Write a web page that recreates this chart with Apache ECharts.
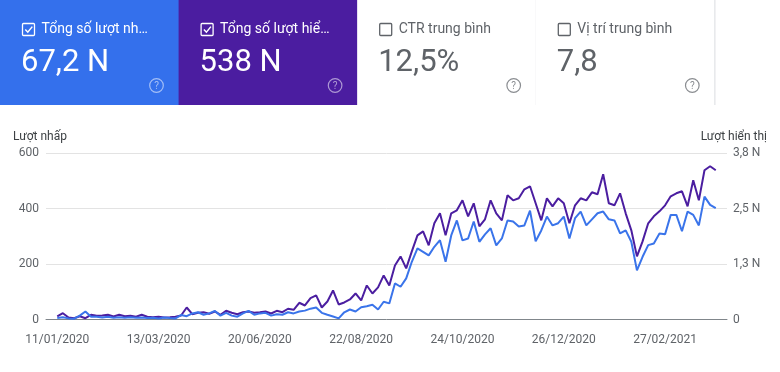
<!DOCTYPE html>
<html>
<head>
<meta charset="utf-8">
<script src="https://cdn.jsdelivr.net/npm/echarts@6/dist/echarts.min.js"></script>
<style>
html,body{margin:0;padding:0;background:#fff;}
#chart{width:780px;height:372px;}
</style>
</head>
<body>
<div id="chart"></div>
<script>
// ---- Data (sampled twice a week, from 11/01/2020) ----
const xTickLabels = ['11/01/2020','13/03/2020','20/06/2020','22/08/2020','24/10/2020','26/12/2020','27/02/2021'];
const leftTickLabels = ['0','200','400','600'];
const rightTickLabels = ['0','1,3 N','2,5 N','3,8 N'];
const clicks = [5,8,4,3,14,29,10,10,7,10,6,8,6,8,6,7,5,6,4,7,5,4,
  16,12,22,26,17,22,31,14,24,14,10,22,31,17,22,24,14,19,17,26,22,29,32,39,43,24,17,11,4,26,36,29,44,48,53,
  36,64,58,130,118,148,208,256,244,231,262,286,208,303,357,285,292,353,280,307,
  329,267,292,357,353,335,339,392,282,321,371,339,347,371,292,365,389,339,361,383,
  389,361,357,310,321,280,177,226,268,274,310,307,377,377,318,389,377,339,443,413,401];
const impressions = [69,144,46,30,75,30,107,85,91,107,69,107,75,85,62,107,62,53,62,46,53,62,
  91,274,121,153,167,130,183,107,199,153,121,167,183,153,167,183,137,199,167,245,222,382,320,487,549,274,411,663,343,389,457,594,434,777,594,
  732,1006,777,1234,1440,1166,1554,1920,2012,1692,2195,2423,1920,2423,2492,2720,2355,2652,2126,2286,
  2720,2423,2263,2835,2720,2766,2972,3040,2652,2263,2766,2583,2766,2652,2195,2606,2766,2720,2903,2858,
  3315,2652,2606,2880,2423,2035,1440,1783,2195,2355,2469,2606,2812,2880,2926,2583,3178,2720,3406,3498,3406];
const cardLabels = ['Tổng số lượt nh…','Tổng số lượt hiể…','CTR trung bình','Vị trí trung bình'];
const cardValues = ['67,2 N','538 N','12,5%','7,8'];
const cardChecked = [true,true,false,false];

// ---- Build ----
const PAD = 2;           // empty slots before/after data on the axis
const STEP = 18;         // samples between date labels
const n = clicks.length;
const categories = [];
for (let i = 0; i < n + 2 * PAD; i++) categories.push(String(i - PAD));
const padArr = a => [...Array(PAD).fill(null), ...a, ...Array(PAD).fill(null)];

const BLUE = '#3a74ea', PURPLE = '#4b1ea0';
const cardFill = ['#3470ec', '#4b1da0', '#ffffff', '#ffffff'];
const cardW = 178.6, cardH = 105;
const graphic = [];
cardLabels.forEach((lab, k) => {
  const x0 = k * cardW;
  const colored = k < 2;
  const fg = colored ? '#ffffff' : '#5f6368';
  graphic.push({type:'rect', shape:{x:x0, y:0, width:cardW + (colored?0.5:0), height:cardH}, style:{fill:cardFill[k]}, silent:true});
  if (!colored) graphic.push({type:'line', shape:{x1:x0+cardW+0.5, y1:0, x2:x0+cardW+0.5, y2:cardH}, style:{stroke:'#dadce0', lineWidth:1}});
  graphic.push({type:'rect', shape:{x:x0+22.5, y:23.5, width:12, height:12, r:1}, style:{fill:'none', stroke:fg, lineWidth:1.3}});
  if (cardChecked[k]) graphic.push({type:'polyline', shape:{points:[[x0+25.3,29.6],[x0+27.8,32.2],[x0+32.3,26.6]]}, style:{fill:'none', stroke:fg, lineWidth:1.5}});
  graphic.push({type:'text', x:x0+41.5, y:29.5, style:{text:lab, fill:fg, font:'14px Roboto', verticalAlign:'middle', align:'left'}});
  graphic.push({type:'text', x:x0+21, y:63.5, style:{text:cardValues[k], fill:fg, font:'31px Roboto', verticalAlign:'middle', align:'left'}});
  const qc = colored ? 'rgba(255,255,255,0.55)' : '#8a8d91';
  graphic.push({type:'circle', shape:{cx:x0+156.5, cy:85.5, r:6.8}, style:{fill:'none', stroke:qc, lineWidth:1.2}});
  graphic.push({type:'text', x:x0+156.5, y:86, style:{text:'?', fill:qc, font:'10px Roboto', align:'center', verticalAlign:'middle'}});
});
graphic.push({type:'text', x:13, y:136.5, style:{text:'Lượt nhấp', fill:'#3c4043', font:'12px Roboto', verticalAlign:'middle'}});
graphic.push({type:'text', x:767, y:136.5, style:{text:'Lượt hiển thị', fill:'#3c4043', font:'12px Roboto', align:'right', verticalAlign:'middle'}});

const chart = echarts.init(document.getElementById('chart'), null, {renderer:'canvas'});
chart.setOption({
  animation:false,
  backgroundColor:'#ffffff',
  graphic: graphic,
  grid:{left:46, right:53, top:153, bottom:52.5},
  xAxis:{
    type:'category', data:categories, boundaryGap:false,
    axisLine:{lineStyle:{color:'#80868b', width:1}},
    axisTick:{show:false},
    axisLabel:{
      color:'#5f6368', fontSize:12, fontFamily:'Roboto', margin:14,
      interval:(idx) => idx >= PAD && (idx - PAD) % STEP === 0 && (idx - PAD) / STEP < xTickLabels.length,
      formatter:(v, idx) => xTickLabels[(idx - PAD) / STEP] || ''
    },
    splitLine:{show:false}
  },
  yAxis:[
    {type:'value', min:0, max:600, interval:200, position:'left',
     axisLine:{show:false}, axisTick:{show:false},
     axisLabel:{color:'#5f6368', fontSize:12, fontFamily:'Roboto', margin:7,
       formatter:(v) => leftTickLabels[Math.round(v / 200)]},
     splitLine:{lineStyle:{color:'#e3e3e3', width:1}}},
    {type:'value', min:0, max:3800, interval:3800/3, position:'right',
     axisLine:{show:false}, axisTick:{show:false},
     axisLabel:{color:'#5f6368', fontSize:12, fontFamily:'Roboto', margin:6,
       formatter:(v) => rightTickLabels[Math.round(v / (3800/3))]},
     splitLine:{show:false}}
  ],
  series:[
    {name:'Lượt hiển thị', type:'line', yAxisIndex:1, data:padArr(impressions), showSymbol:false, symbol:'none',
     lineStyle:{color:PURPLE, width:2}, itemStyle:{color:PURPLE}, z:2},
    {name:'Lượt nhấp', type:'line', yAxisIndex:0, data:padArr(clicks), showSymbol:false, symbol:'none',
     lineStyle:{color:BLUE, width:2}, itemStyle:{color:BLUE}, z:3}
  ]
});
</script>
</body>
</html>
